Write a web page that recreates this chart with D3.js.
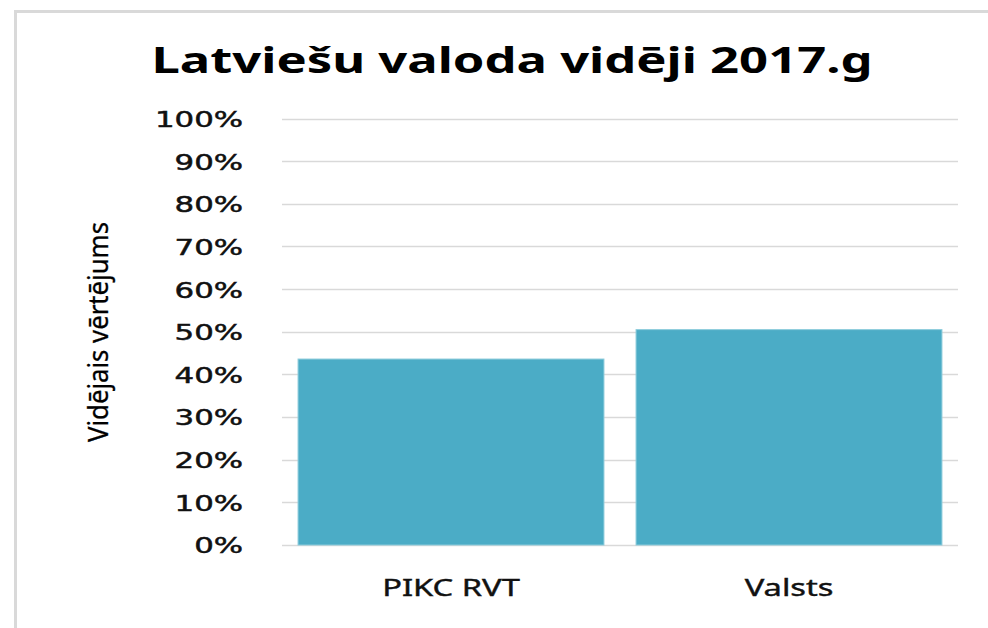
<!DOCTYPE html>
<html>
<head>
<meta charset="utf-8">
<script src="https://cdn.jsdelivr.net/npm/d3@7"></script>
<style>
  html, body { margin: 0; padding: 0; background: #fff; }
  svg { display: block; }
</style>
</head>
<body>
<script>
(function () {

var categories = ["PIKC RVT", "Valsts"]
var values = [0.436, 0.505]
var tickValues = [0, 0.1, 0.2, 0.3, 0.4, 0.5, 0.6, 0.7, 0.8, 0.9, 1]
var title = "Latviešu valoda vidēji 2017.g"
var yTitle = "Vidējais vērtējums"

var width = 988,
    height = 628

var left = 282, right = 958, top = 118.5, bottom = 545

var svg = d3.select("body")
  .append("svg")
  .attr("width", width)
  .attr("height", height)

// stretch text horizontally like the original picture
function stretch(sel, k) {
  sel.each(function () {
    var len = this.getComputedTextLength()
    d3.select(this)
      .attr("textLength", len * k)
      .attr("lengthAdjust", "spacingAndGlyphs")
  })
}

// outer frame (only left and top visible)
svg.append("path")
  .attr("d", "M15.5," + height + " V11.5 H" + width)
  .attr("fill", "none")
  .attr("stroke", "#d9d9d9")
  .attr("stroke-width", 3)

var x = d3.scaleBand()
  .domain(categories)
  .range([left, right])
  .paddingInner(0.095)
  .paddingOuter(0.0475)

var y = d3.scaleLinear()
  .domain([0, 1])
  .range([bottom, top])

// grid
svg.append("g")
  .selectAll("line")
  .data(tickValues)
  .enter().append("line")
  .attr("x1", left)
  .attr("x2", right)
  .attr("y1", function(d) { return Math.round(y(d)) + 0.5 })
  .attr("y2", function(d) { return Math.round(y(d)) + 0.5 })
  .attr("stroke", "#d9d9d9")
  .attr("stroke-width", 1.5)

// bars
svg.append("g")
  .selectAll("rect")
  .data(values)
  .enter().append("rect")
  .attr("x", function(d, i) { return x(categories[i]) })
  .attr("width", x.bandwidth())
  .attr("y", function(d) { return y(d) })
  .attr("height", function(d) { return bottom - y(d) })
  .attr("fill", "#4bacc6")
  .attr("stroke", "#8ccbdb")
  .attr("stroke-width", 1)

// y tick labels
var yAxis = d3.axisLeft(y)
  .tickValues(tickValues)
  .tickFormat(d3.format(".0%"))
  .tickSize(0)
  .tickPadding(0)

var yg = svg.append("g")
  .attr("transform", "translate(243,0)")
  .call(yAxis)
yg.select(".domain").remove()
yg.selectAll("text")
  .attr("font-family", "DejaVu Sans")
  .attr("font-size", 22)
  .attr("fill", "#111")
  .attr("stroke", "#111")
  .attr("stroke-width", 0.5)
  .attr("dy", "0.36em")
  .call(stretch, 1.4)

// x labels
var xAxis = d3.axisBottom(x).tickSize(0).tickPadding(0)
var xg = svg.append("g")
  .attr("transform", "translate(0,596)")
  .call(xAxis)
xg.select(".domain").remove()
xg.selectAll("text")
  .attr("font-family", "Noto Sans")
  .attr("font-size", 23)
  .attr("fill", "#111")
  .attr("stroke", "#111")
  .attr("stroke-width", 0.4)
  .attr("dy", 0)
  .call(stretch, 1.42)

// title
svg.append("text")
  .attr("x", 512)
  .attr("y", 73)
  .attr("text-anchor", "middle")
  .attr("font-family", "Noto Sans")
  .attr("font-weight", "bold")
  .attr("font-size", 36)
  .attr("fill", "#000")
  .attr("textLength", 721)
  .attr("lengthAdjust", "spacingAndGlyphs")
  .text(title)

// y axis title
svg.append("text")
  .attr("transform", "translate(108,332) rotate(-90)")
  .attr("text-anchor", "middle")
  .attr("font-family", "Noto Sans")
  .attr("font-size", 28)
  .attr("fill", "#000")
  .attr("stroke", "#000")
  .attr("stroke-width", 0.3)
  .attr("textLength", 220)
  .attr("lengthAdjust", "spacingAndGlyphs")
  .text(yTitle)

}())
</script>
</body>
</html>
